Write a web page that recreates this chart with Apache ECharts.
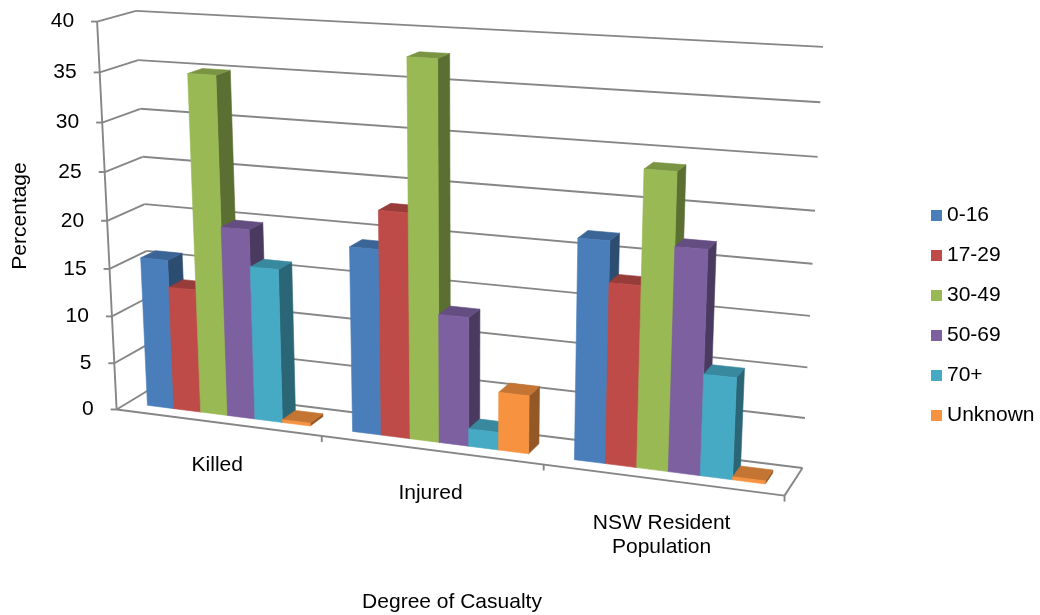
<!DOCTYPE html>
<html>
<head>
<meta charset="utf-8">
<title>Degree of Casualty by Age Group</title>
<script src="https://cdn.jsdelivr.net/npm/echarts@6/dist/echarts.min.js"></script>
<style>
  html, body { margin: 0; padding: 0; background: #ffffff; }
  #chart { width: 1040px; height: 615px; }
</style>
</head>
<body>
<div id="chart"></div>
<script>
// ---- data ----
const categories = ['Killed', 'Injured', 'NSW Resident\nPopulation'];
const ageGroups = ['0-16', '17-29', '30-49', '50-69', '70+', 'Unknown'];
const age0to16   = [15.8, 19.0, 21.9];
const age17to29  = [13.0, 22.9, 17.9];
const age30to49  = [35.0, 37.9, 28.9];
const age50to69  = [19.8, 13.1, 21.9];
const age70plus  = [16.0, 1.8, 10.0];
const ageUnknown = [0.3, 5.9, 0.3];
const valueTicks = [0, 5, 10, 15, 20, 25, 30, 35, 40];

const seriesValues = [age0to16, age17to29, age30to49, age50to69, age70plus, ageUnknown];
const groupColors = ['#4a7ebb', '#be4b48', '#98b954', '#7d60a0', '#46aac5', '#f69240'];

// ---- 3D view ----
// Screen anchors of the plot box: [across 0..1, depth 0..1, height 0..1, screenX, screenY]
const BOX_ANCHORS = [
  [0, 0, 0, 117, 409], [0, 0, 0.25, 112, 315], [0, 0, 0.5, 107, 220],
  [0, 0, 0.75, 102, 122], [0, 0, 1, 97, 23],
  [0, 1, 1, 137, 11], [0, 1, 0.875, 137, 61], [0, 1, 0.75, 140, 108],
  [0, 1, 0.625, 143, 156], [0, 1, 0.5, 145, 204], [0, 1, 0, 153, 389],
  [1, 1, 1, 823, 46], [1, 1, 0.875, 821, 103], [1, 1, 0.75, 817.5, 157],
  [1, 1, 0.625, 815, 211], [1, 1, 0.5, 812, 264], [1, 1, 0.375, 810, 316],
  [1, 1, 0.25, 807.5, 367.5], [1, 1, 0.125, 805, 417.5], [1, 1, 0, 802, 467],
  [1 / 3, 0, 0, 322, 437], [2 / 3, 0, 0, 543, 466], [1, 0, 0, 785, 495]
];
const SLOT_MARGIN = 0.1;     // empty share at each side of a category slot
const BAR_FRONT = 0.3;       // depth of the bar front faces
const BAR_BACK = 0.7;        // depth of the bar back faces
const FONT = '"Liberation Sans", Arial, Helvetica, sans-serif';
const GRID_COLOR = '#868686';

function solveLinear(M, r) {
  const n = r.length;
  const A = M.map((row, i) => row.concat([r[i]]));
  for (let c = 0; c < n; c++) {
    let piv = c;
    for (let i = c + 1; i < n; i++) if (Math.abs(A[i][c]) > Math.abs(A[piv][c])) piv = i;
    [A[c], A[piv]] = [A[piv], A[c]];
    for (let i = c + 1; i < n; i++) {
      const f = A[i][c] / A[c][c];
      for (let j = c; j <= n; j++) A[i][j] -= f * A[c][j];
    }
  }
  const x = new Array(n).fill(0);
  for (let i = n - 1; i >= 0; i--) {
    let s = A[i][n];
    for (let j = i + 1; j < n; j++) s -= A[i][j] * x[j];
    x[i] = s / A[i][i];
  }
  return x;
}

// Perspective camera (3x4 projective matrix) fitted to the box anchors.
function fitProjection(anchors) {
  const N = 11;
  const M = Array.from({ length: N }, () => new Array(N).fill(0));
  const r = new Array(N).fill(0);
  const add = (row, rhs) => {
    for (let i = 0; i < N; i++) {
      r[i] += row[i] * rhs;
      for (let j = 0; j < N; j++) M[i][j] += row[i] * row[j];
    }
  };
  anchors.forEach(([X, Y, Z, u, v]) => {
    u /= 100; v /= 100;
    add([X, Y, Z, 1, 0, 0, 0, 0, -u * X, -u * Y, -u * Z], u);
    add([0, 0, 0, 0, X, Y, Z, 1, -v * X, -v * Y, -v * Z], v);
  });
  const p = solveLinear(M, r);
  return (X, Y, Z) => {
    const d = p[8] * X + p[9] * Y + p[10] * Z + 1;
    return [100 * (p[0] * X + p[1] * Y + p[2] * Z + p[3]) / d,
            100 * (p[4] * X + p[5] * Y + p[6] * Z + p[7]) / d];
  };
}
const camera = fitProjection(BOX_ANCHORS);

// Maps (category slot position, depth, value) through the grid's axes into the 3D view.
function projector(params, api) {
  const cs = params.coordSys;
  return (slot, depth, value) => {
    const p = api.coord([slot, value]);
    return camera((p[0] - cs.x) / cs.width, depth, (cs.y + cs.height - p[1]) / cs.height);
  };
}

function shade(hex, f) {
  const n = parseInt(hex.slice(1), 16);
  const ch = [(n >> 16) & 255, (n >> 8) & 255, n & 255].map(c =>
    Math.round(f < 0 ? c * (1 + f) : c + (255 - c) * f));
  return 'rgb(' + ch.join(',') + ')';
}

function line(a, b, width) {
  return { type: 'line', shape: { x1: a[0], y1: a[1], x2: b[0], y2: b[1] },
           style: { stroke: GRID_COLOR, lineWidth: width || 1.9 } };
}
function text(str, x, y, align, vAlign, extra) {
  return Object.assign({ type: 'text', x: x, y: y,
    style: { text: str, fill: '#000', font: '21px ' + FONT, align: align,
             verticalAlign: vAlign, lineHeight: 24 } }, extra || {});
}

function renderFrame(params, api) {
  const P = projector(params, api);
  const n = categories.length;
  const children = [];
  valueTicks.forEach(v => {
    children.push(line(P(0, 1, v), P(n, 1, v)));   // back wall
    children.push(line(P(0, 0, v), P(0, 1, v)));   // side wall
    const a = P(0, 0, v);
    children.push(line(a, [a[0] - 6, a[1]]));
    children.push(text(String(v), a[0] - 23, a[1], 'right', 'middle'));
  });
  children.push(line(P(0, 0, 0), P(0, 0, valueTicks[valueTicks.length - 1])));
  children.push(line(P(0, 0, 0), P(n, 0, 0)));
  children.push(line(P(n, 0, 0), P(n, 1, 0)));
  for (let c = 1; c <= n; c++) {
    const a = P(c, 0, 0);
    children.push(line(a, [a[0], a[1] + 6]));
  }
  categories.forEach((name, c) => {
    const a = P(c + 0.5, 0, 0);
    children.push(text(name, a[0], a[1] + 31, 'center', 'top'));
  });
  children.push(text('Degree of Casualty', 452, 602, 'center', 'middle'));
  children.push(text('Percentage', 20, 216, 'center', 'middle', { rotation: Math.PI / 2 }));
  return { type: 'group', children: children };
}

function barRenderer(s) {
  const barW = (1 - 2 * SLOT_MARGIN) / ageGroups.length;
  const color = groupColors[s];
  return function (params, api) {
    const P = projector(params, api);
    const c = api.value(0);
    const v = api.value(1);
    const x0 = c + SLOT_MARGIN + s * barW;
    const x1 = x0 + barW;
    const face = (pts, fill) => ({ type: 'polygon', shape: { points: pts },
      style: { fill: fill, stroke: fill, lineWidth: 0.6 } });
    const side = [P(x1, BAR_FRONT, 0), P(x1, BAR_BACK, 0), P(x1, BAR_BACK, v), P(x1, BAR_FRONT, v)];
    const top = [P(x0, BAR_FRONT, v), P(x1, BAR_FRONT, v), P(x1, BAR_BACK, v), P(x0, BAR_BACK, v)];
    const front = [P(x0, BAR_FRONT, 0), P(x1, BAR_FRONT, 0), P(x1, BAR_FRONT, v), P(x0, BAR_FRONT, v)];
    return { type: 'group', children: [
      face(side, shade(color, -0.4)),
      face(top, shade(color, -0.2)),
      face(front, color)
    ] };
  };
}

const series = [{
  type: 'custom', name: 'frame', coordinateSystem: 'cartesian2d', silent: true, z: 1,
  data: [[0, 0]], renderItem: renderFrame
}];
ageGroups.forEach((name, s) => {
  series.push({
    type: 'custom', name: name, coordinateSystem: 'cartesian2d', z: 2,
    itemStyle: { color: groupColors[s] },
    data: seriesValues[s].map((v, c) => [c, v]),
    renderItem: barRenderer(s)
  });
});

const chart = echarts.init(document.getElementById('chart'));
chart.setOption({
  animation: false,
  backgroundColor: '#ffffff',
  grid: { left: 100, top: 100, width: 300, height: 400, show: false },
  xAxis: { type: 'value', min: 0, max: categories.length, show: false },
  yAxis: { type: 'value', min: 0, max: 40, interval: 5, show: false },
  legend: {
    data: ageGroups, orient: 'vertical', left: 926, top: 200,
    icon: 'rect', itemWidth: 11, itemHeight: 11, itemGap: 19,
    textStyle: { fontSize: 21, fontFamily: FONT, color: '#000' }
  },
  series: series
});
</script>
</body>
</html>
